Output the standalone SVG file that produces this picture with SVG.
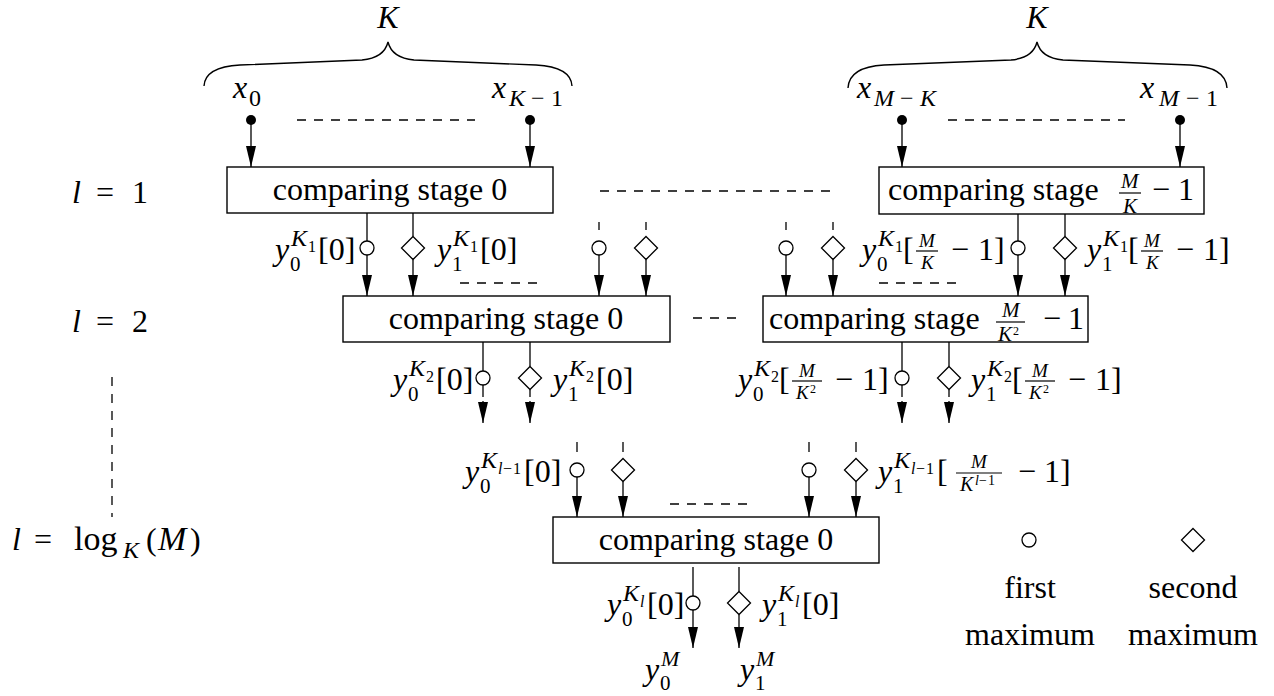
<svg xmlns="http://www.w3.org/2000/svg" xmlns:xlink="http://www.w3.org/1999/xlink" width="1274" height="696" viewBox="0 0 1274 696">
  <style>
    text { font-family: "Liberation Serif", "DejaVu Serif", serif; fill: #000; font-size: 32px; }
    .s { font-size: 22px; }
    .sd { font-size: 21px; }
    .sk { font-size: 24px; }
    .ss { font-size: 16px; }
    .f { font-size: 19px; }
    .fd { font-size: 20px; }
    .fb { font-size: 21px; }
    .fs { font-size: 12px; }
    .fx { font-size: 14px; }
    .i { font-style: italic; }
    .mid { text-anchor: middle; }
    .box { fill: #fff; stroke: #000; stroke-width: 1.4; }
    .ln { stroke: #000; stroke-width: 1.3; fill: none; }
    .arr { stroke: #000; stroke-width: 1.3; fill: none; marker-end: url(#ah); }
    .dash { stroke: #000; stroke-width: 1.3; fill: none; stroke-dasharray: 9 8; }
    .bar { stroke: #000; stroke-width: 1.2; }
    .sym { fill: #fff; stroke: #000; stroke-width: 1.3; }
    .dot { fill: #000; }
    .brace { fill: none; stroke: #000; stroke-width: 1.4; }
  </style>
  <defs>
    <marker id="ah" markerWidth="21" markerHeight="10" refX="21" refY="5" orient="auto" markerUnits="userSpaceOnUse">
      <path d="M0,0 L21,5 L0,10 z" fill="#000"/>
    </marker>
    <circle id="o" r="7"/>
    <polygon id="d" points="0,-11.5 11.5,0 0,11.5 -11.5,0"/>
  </defs>

  <!-- braces over the input groups -->
  <g id="braces">
    <path class="brace" d="M204,86 Q205,67 240,65 L362,60 Q384,58 388,42 Q392,58 414,60 L536,65 Q571,67 572,86"/>
    <text class="i mid" x="388" y="28">K</text>
    <path class="brace" d="M848,88 Q849,67 884,65 L1011,60 Q1033,58 1037,42 Q1041,58 1063,60 L1190,65 Q1226,67 1227,88"/>
    <text class="i mid" x="1037" y="28">K</text>
  </g>

  <!-- inputs -->
  <g id="inputs">
    <text><tspan class="i" x="233" y="98">x</tspan><tspan class="sk" x="249" y="106">0</tspan></text>
    <text><tspan class="i" x="492" y="98">x</tspan><tspan class="sk i" x="509" y="106">K</tspan><tspan class="sk" x="531" y="106">−</tspan><tspan class="sk" x="551" y="106">1</tspan></text>
    <text><tspan class="i" x="857" y="98">x</tspan><tspan class="sk i" x="874" y="106">M</tspan><tspan class="sk" x="900" y="106">−</tspan><tspan class="sk i" x="920" y="106">K</tspan></text>
    <text><tspan class="i" x="1140" y="98">x</tspan><tspan class="sk i" x="1159" y="106">M</tspan><tspan class="sk" x="1186" y="106">−</tspan><tspan class="sk" x="1206" y="106">1</tspan></text>
  </g>

  <!-- level labels -->
  <g id="levels">
    <text y="203"><tspan class="i" x="72">l</tspan><tspan x="96">=</tspan><tspan x="132">1</tspan></text>
    <text y="332"><tspan class="i" x="72">l</tspan><tspan x="96">=</tspan><tspan x="132">2</tspan></text>
    <line class="dash" x1="112" y1="377" x2="112" y2="517"/>
    <text y="550"><tspan class="i" x="12">l</tspan><tspan x="34">=</tspan><tspan x="74" style="font-size:34px">log</tspan><tspan class="sk i" x="123" y="558">K</tspan><tspan x="146" y="550">(</tspan><tspan class="i" x="158" style="font-size:34px">M</tspan><tspan x="190">)</tspan></text>
  </g>

  <!-- comparing stages -->
  <g id="stage-l1-first">
    <rect class="box" x="227" y="167" width="326" height="46"/>
    <text class="mid" x="390" y="200">comparing stage 0</text>
  </g>
  <g id="stage-l1-last">
    <rect class="box" x="879" y="167" width="325" height="47"/>
    <line class="bar" x1="1119" y1="193" x2="1141" y2="193"/>
    <text><tspan x="888" y="200">comparing stage</tspan><tspan class="fb i" x="1121" y="188">M</tspan><tspan class="fb i" x="1123" y="213">K</tspan><tspan x="1152" y="200">−</tspan><tspan x="1178" y="200">1</tspan></text>
  </g>
  <g id="stage-l2-first">
    <rect class="box" x="343" y="296" width="327" height="46"/>
    <text class="mid" x="506" y="329">comparing stage 0</text>
  </g>
  <g id="stage-l2-last">
    <rect class="box" x="763" y="296" width="325" height="46"/>
    <line class="bar" x1="996" y1="322" x2="1025" y2="322"/>
    <text><tspan x="769" y="329">comparing stage</tspan><tspan class="fb i" x="1002" y="317">M</tspan><tspan class="fb i" x="998" y="341">K</tspan><tspan class="fs" x="1013" y="335">2</tspan><tspan x="1043" y="329">−</tspan><tspan x="1068" y="329">1</tspan></text>
  </g>
  <g id="stage-final">
    <rect class="box" x="553" y="517" width="326" height="46"/>
    <text class="mid" x="716" y="550">comparing stage 0</text>
  </g>

  <!-- connectors -->
  <g id="connectors">
    <!-- level 1 inputs -->
    <circle class="dot" cx="251" cy="120" r="5"/>
    <circle class="dot" cx="530" cy="120" r="5"/>
    <circle class="dot" cx="902" cy="120" r="5"/>
    <circle class="dot" cx="1180" cy="120" r="5"/>
    <line class="arr" x1="251" y1="120" x2="251" y2="167"/>
    <line class="arr" x1="530" y1="120" x2="530" y2="167"/>
    <line class="arr" x1="902" y1="120" x2="902" y2="167"/>
    <line class="arr" x1="1180" y1="120" x2="1180" y2="167"/>
    <line class="dash" x1="297" y1="120" x2="475" y2="120"/>
    <line class="dash" x1="948" y1="120" x2="1125" y2="120"/>
    <line class="dash" x1="600" y1="191" x2="833" y2="191"/>

    <!-- level 1 outputs into level 2 -->
    <line class="ln" x1="367" y1="213" x2="367" y2="241"/>
    <use xlink:href="#o" class="sym" x="367" y="248"/>
    <line class="arr" x1="367" y1="255" x2="367" y2="296"/>
    <line class="ln" x1="413" y1="213" x2="413" y2="236.5"/>
    <use xlink:href="#d" class="sym" x="413" y="248"/>
    <line class="arr" x1="413" y1="259.5" x2="413" y2="296"/>

    <line class="ln" x1="599" y1="222" x2="599" y2="230"/>
    <use xlink:href="#o" class="sym" x="599" y="248"/>
    <line class="arr" x1="599" y1="255" x2="599" y2="296"/>
    <line class="ln" x1="646" y1="222" x2="646" y2="230"/>
    <use xlink:href="#d" class="sym" x="646" y="248"/>
    <line class="arr" x1="646" y1="259.5" x2="646" y2="296"/>

    <line class="ln" x1="786" y1="222" x2="786" y2="230"/>
    <use xlink:href="#o" class="sym" x="786" y="248"/>
    <line class="arr" x1="786" y1="255" x2="786" y2="296"/>
    <line class="ln" x1="833" y1="222" x2="833" y2="230"/>
    <use xlink:href="#d" class="sym" x="833" y="248"/>
    <line class="arr" x1="833" y1="259.5" x2="833" y2="296"/>

    <line class="ln" x1="1018" y1="214" x2="1018" y2="241"/>
    <use xlink:href="#o" class="sym" x="1018" y="248"/>
    <line class="arr" x1="1018" y1="255" x2="1018" y2="296"/>
    <line class="ln" x1="1065" y1="214" x2="1065" y2="236.5"/>
    <use xlink:href="#d" class="sym" x="1065" y="248"/>
    <line class="arr" x1="1065" y1="259.5" x2="1065" y2="296"/>

    <line class="dash" x1="460" y1="283" x2="543" y2="283"/>
    <line class="dash" x1="879" y1="283" x2="962" y2="283"/>
    <line class="dash" x1="693" y1="318" x2="740" y2="318"/>

    <!-- level 2 outputs -->
    <line class="ln" x1="483" y1="342" x2="483" y2="371"/>
    <use xlink:href="#o" class="sym" x="483" y="378"/>
    <line class="ln" x1="483" y1="385" x2="483" y2="397"/>
    <line class="arr" x1="483" y1="401" x2="483" y2="423"/>
    <line class="ln" x1="530" y1="342" x2="530" y2="366.5"/>
    <use xlink:href="#d" class="sym" x="530" y="378"/>
    <line class="ln" x1="530" y1="389.5" x2="530" y2="397"/>
    <line class="arr" x1="530" y1="401" x2="530" y2="423"/>

    <line class="ln" x1="902" y1="342" x2="902" y2="371"/>
    <use xlink:href="#o" class="sym" x="902" y="378"/>
    <line class="ln" x1="902" y1="385" x2="902" y2="397"/>
    <line class="arr" x1="902" y1="401" x2="902" y2="423"/>
    <line class="ln" x1="949" y1="342" x2="949" y2="366.5"/>
    <use xlink:href="#d" class="sym" x="949" y="378"/>
    <line class="ln" x1="949" y1="389.5" x2="949" y2="397"/>
    <line class="arr" x1="949" y1="401" x2="949" y2="423"/>

    <!-- level l-1 outputs into the last stage -->
    <line class="ln" x1="577" y1="442" x2="577" y2="452"/>
    <use xlink:href="#o" class="sym" x="577" y="470"/>
    <line class="arr" x1="577" y1="477" x2="577" y2="517"/>
    <line class="ln" x1="623" y1="442" x2="623" y2="452"/>
    <use xlink:href="#d" class="sym" x="623" y="470"/>
    <line class="arr" x1="623" y1="481.5" x2="623" y2="517"/>
    <line class="ln" x1="809" y1="442" x2="809" y2="452"/>
    <use xlink:href="#o" class="sym" x="809" y="470"/>
    <line class="arr" x1="809" y1="477" x2="809" y2="517"/>
    <line class="ln" x1="856" y1="442" x2="856" y2="452"/>
    <use xlink:href="#d" class="sym" x="856" y="470"/>
    <line class="arr" x1="856" y1="481.5" x2="856" y2="517"/>
    <line class="dash" x1="670" y1="504" x2="753" y2="504"/>

    <!-- final outputs -->
    <line class="ln" x1="693" y1="567" x2="693" y2="596"/>
    <use xlink:href="#o" class="sym" x="693" y="603"/>
    <line class="arr" x1="693" y1="610" x2="693" y2="648"/>
    <line class="ln" x1="739" y1="567" x2="739" y2="591.5"/>
    <use xlink:href="#d" class="sym" x="739" y="603"/>
    <line class="arr" x1="739" y1="614.5" x2="739" y2="648"/>
  </g>

  <!-- output labels -->
  <g id="labels">
    <!-- level 1 -->
    <text transform="translate(275,260)"><tspan class="i" x="0" y="0">y</tspan><tspan class="sd" x="15" y="11">0</tspan><tspan class="sk i" x="16" y="-14">K</tspan><tspan class="ss" x="33" y="-8">1</tspan><tspan x="43" y="0">[0]</tspan></text>
    <text transform="translate(437,260)"><tspan class="i" x="0" y="0">y</tspan><tspan class="sd" x="15" y="11">1</tspan><tspan class="sk i" x="16" y="-14">K</tspan><tspan class="ss" x="33" y="-8">1</tspan><tspan x="43" y="0">[0]</tspan></text>

    <line class="bar" x1="916" y1="251" x2="938" y2="251"/>
    <text transform="translate(862,260)"><tspan class="i" x="0" y="0">y</tspan><tspan class="sd" x="15" y="11">0</tspan><tspan class="sk i" x="16" y="-14">K</tspan><tspan class="ss" x="33" y="-8">1</tspan><tspan x="41" y="0">[</tspan><tspan class="f i" x="57" y="-13">M</tspan><tspan class="f i" x="59" y="9">K</tspan><tspan x="89" y="0">−</tspan><tspan x="116" y="0">1</tspan><tspan x="132" y="0">]</tspan></text>
    <line class="bar" x1="1141" y1="251" x2="1163" y2="251"/>
    <text transform="translate(1087,260)"><tspan class="i" x="0" y="0">y</tspan><tspan class="sd" x="15" y="11">1</tspan><tspan class="sk i" x="16" y="-14">K</tspan><tspan class="ss" x="33" y="-8">1</tspan><tspan x="41" y="0">[</tspan><tspan class="f i" x="57" y="-13">M</tspan><tspan class="f i" x="59" y="9">K</tspan><tspan x="89" y="0">−</tspan><tspan x="116" y="0">1</tspan><tspan x="132" y="0">]</tspan></text>

    <!-- level 2 -->
    <text transform="translate(393,390)"><tspan class="i" x="0" y="0">y</tspan><tspan class="sd" x="15" y="11">0</tspan><tspan class="sk i" x="16" y="-14">K</tspan><tspan class="ss" x="33" y="-8">2</tspan><tspan x="43" y="0">[0]</tspan></text>
    <text transform="translate(553,390)"><tspan class="i" x="0" y="0">y</tspan><tspan class="sd" x="15" y="11">1</tspan><tspan class="sk i" x="16" y="-14">K</tspan><tspan class="ss" x="33" y="-8">2</tspan><tspan x="43" y="0">[0]</tspan></text>

    <line class="bar" x1="792" y1="381" x2="822" y2="381"/>
    <text transform="translate(738,390)"><tspan class="i" x="0" y="0">y</tspan><tspan class="sd" x="15" y="11">0</tspan><tspan class="sk i" x="16" y="-14">K</tspan><tspan class="ss" x="33" y="-8">2</tspan><tspan x="41" y="0">[</tspan><tspan class="f i" x="61" y="-13">M</tspan><tspan class="f i" x="58" y="9">K</tspan><tspan class="fs" x="72" y="3">2</tspan><tspan x="97" y="0">−</tspan><tspan x="124" y="0">1</tspan><tspan x="140" y="0">]</tspan></text>
    <line class="bar" x1="1025" y1="381" x2="1055" y2="381"/>
    <text transform="translate(971,390)"><tspan class="i" x="0" y="0">y</tspan><tspan class="sd" x="15" y="11">1</tspan><tspan class="sk i" x="16" y="-14">K</tspan><tspan class="ss" x="33" y="-8">2</tspan><tspan x="41" y="0">[</tspan><tspan class="f i" x="61" y="-13">M</tspan><tspan class="f i" x="58" y="9">K</tspan><tspan class="fs" x="72" y="3">2</tspan><tspan x="97" y="0">−</tspan><tspan x="124" y="0">1</tspan><tspan x="140" y="0">]</tspan></text>

    <!-- level l-1 -->
    <text transform="translate(465,482)"><tspan class="i" x="0" y="0">y</tspan><tspan class="sd" x="15" y="11">0</tspan><tspan class="sk i" x="16" y="-14">K</tspan><tspan class="ss i" x="33" y="-8">l</tspan><tspan class="ss" x="38" y="-8">−</tspan><tspan class="ss" x="48" y="-8">1</tspan><tspan x="59" y="0">[0]</tspan></text>

    <line class="bar" x1="956" y1="473" x2="1002" y2="473"/>
    <text transform="translate(878,482)"><tspan class="i" x="0" y="0">y</tspan><tspan class="sd" x="15" y="11">1</tspan><tspan class="sk i" x="16" y="-14">K</tspan><tspan class="ss i" x="33" y="-8">l</tspan><tspan class="ss" x="38" y="-8">−</tspan><tspan class="ss" x="48" y="-8">1</tspan><tspan x="59" y="0">[</tspan><tspan class="f i" x="93" y="-14">M</tspan><tspan class="fd i" x="82" y="9">K</tspan><tspan class="fx i" x="97" y="3">l</tspan><tspan class="fx" x="101" y="3">−</tspan><tspan class="fx" x="110" y="3">1</tspan><tspan x="140" y="0">−</tspan><tspan x="166" y="0">1</tspan><tspan x="182" y="0">]</tspan></text>

    <!-- final stage -->
    <text transform="translate(607,615)"><tspan class="i" x="0" y="0">y</tspan><tspan class="sd" x="15" y="11">0</tspan><tspan class="sk i" x="16" y="-14">K</tspan><tspan class="ss i" x="33" y="-8">l</tspan><tspan x="40" y="0">[0]</tspan></text>
    <text transform="translate(762,615)"><tspan class="i" x="0" y="0">y</tspan><tspan class="sd" x="15" y="11">1</tspan><tspan class="sk i" x="16" y="-14">K</tspan><tspan class="ss i" x="33" y="-8">l</tspan><tspan x="40" y="0">[0]</tspan></text>
    <text transform="translate(645,680)"><tspan class="i" x="0" y="0">y</tspan><tspan class="sd" x="15" y="10">0</tspan><tspan class="s i" x="16" y="-14">M</tspan></text>
    <text transform="translate(740,680)"><tspan class="i" x="0" y="0">y</tspan><tspan class="sd" x="15" y="10">1</tspan><tspan class="s i" x="16" y="-14">M</tspan></text>
  </g>

  <!-- legend -->
  <g id="legend">
    <use xlink:href="#o" class="sym" x="1029" y="540"/>
    <use xlink:href="#d" class="sym" x="1193" y="540"/>
    <text class="mid" x="1030" y="598">first</text>
    <text class="mid" x="1193" y="598">second</text>
    <text class="mid" x="1030" y="645">maximum</text>
    <text class="mid" x="1193" y="645">maximum</text>
  </g>
</svg>
